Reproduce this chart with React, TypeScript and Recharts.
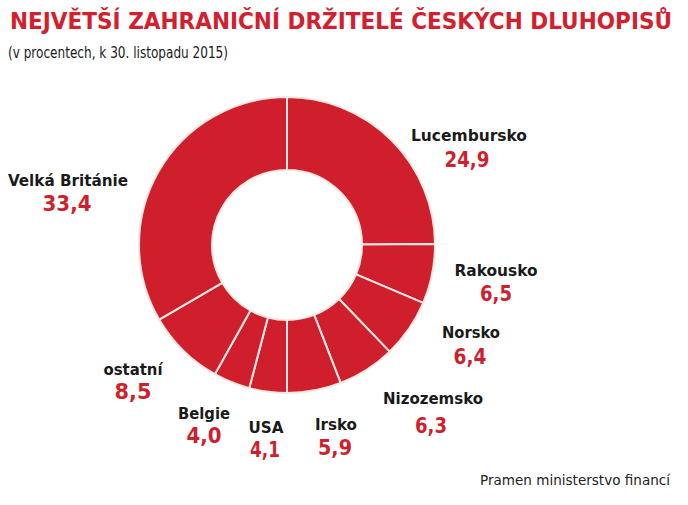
import React from "react";
import { PieChart, Pie, Cell } from "recharts";

const countries = ["Lucembursko", "Rakousko", "Norsko", "Nizozemsko", "Irsko", "USA", "Belgie", "ostatní", "Velká Británie"];
const shares = [24.9, 6.5, 6.4, 6.3, 5.9, 4.1, 4.0, 8.5, 33.4];

const TITLE = "NEJVĚTŠÍ ZAHRANIČNÍ DRŽITELÉ ČESKÝCH DLUHOPISŮ";
const SUBTITLE = "(v procentech, k 30. listopadu 2015)";
const SOURCE = "Pramen ministerstvo financí";

const data = countries.map((name, i) => ({ name, value: shares[i] }));

// label layout: [nameX, nameY, nameWidth, valueX, valueY, valueWidth]
const labelLayout: number[][] = [
  [469, 135, 116, 467, 160, 45],
  [496, 270, 83, 496, 294, 32],
  [471, 332, 58, 470, 357, 33],
  [433, 398, 100, 431, 426, 32],
  [336, 424, 42, 335, 448, 34],
  [266, 427, 35, 265, 450, 30],
  [204, 413, 52, 204, 436, 35],
  [133, 369, 59, 133, 392, 37],
  [68, 180, 120, 67, 204, 49],
];

const RED = "#cf1f2d";
const FONT = "'DejaVu Sans Condensed', 'Liberation Sans Narrow', Arial, sans-serif";

const fmt = (v: number) => v.toFixed(1).replace(".", ",");

const renderLabel = (props: any) => {
  const i = props.index;
  const l = labelLayout[i];
  if (!l) return null;
  return (
    <g key={`lbl-${i}`}>
      <text
        x={l[0]}
        y={l[1]}
        textAnchor="middle"
        dominantBaseline="central"
        fontFamily={FONT}
        fontWeight="bold"
        fontSize={16}
        fill="#1a1a1a"
        textLength={l[2]}
        lengthAdjust="spacingAndGlyphs"
      >
        {countries[i]}
      </text>
      <text
        x={l[3]}
        y={l[4]}
        textAnchor="middle"
        dominantBaseline="central"
        fontFamily={FONT}
        fontWeight="bold"
        fontSize={21}
        fill={RED}
        textLength={l[5]}
        lengthAdjust="spacingAndGlyphs"
      >
        {fmt(shares[i])}
      </text>
    </g>
  );
};

export default function App() {
  return (
    <div style={{ position: "absolute", left: 0, top: 0, width: 688, height: 505, background: "#fff" }}>
      <PieChart width={688} height={505} margin={{ top: 0, right: 0, bottom: 0, left: 0 }}>
        <text
          x={10}
          y={21}
          dominantBaseline="central"
          fontFamily={FONT}
          fontWeight="bold"
          fontSize={23}
          fill="#d3202e"
          textLength={662}
          lengthAdjust="spacingAndGlyphs"
        >
          {TITLE}
        </text>
        <text
          x={8}
          y={52}
          dominantBaseline="central"
          fontFamily={FONT}
          fontSize={16}
          fill="#1a1a1a"
          textLength={220}
          lengthAdjust="spacingAndGlyphs"
        >
          {SUBTITLE}
        </text>
        <Pie
          data={data}
          dataKey="value"
          nameKey="name"
          cx={287}
          cy={245}
          innerRadius={75}
          outerRadius={148}
          startAngle={90}
          endAngle={-270}
          stroke="#f6e8e3"
          strokeWidth={2}
          isAnimationActive={false}
          label={renderLabel}
          labelLine={false}
        >
          {data.map((d) => (
            <Cell key={d.name} fill={RED} />
          ))}
        </Pie>
        <text
          x={480}
          y={480}
          dominantBaseline="central"
          fontFamily={FONT}
          fontSize={14}
          fill="#222"
          textLength={190}
          lengthAdjust="spacingAndGlyphs"
        >
          {SOURCE}
        </text>
      </PieChart>
    </div>
  );
}
